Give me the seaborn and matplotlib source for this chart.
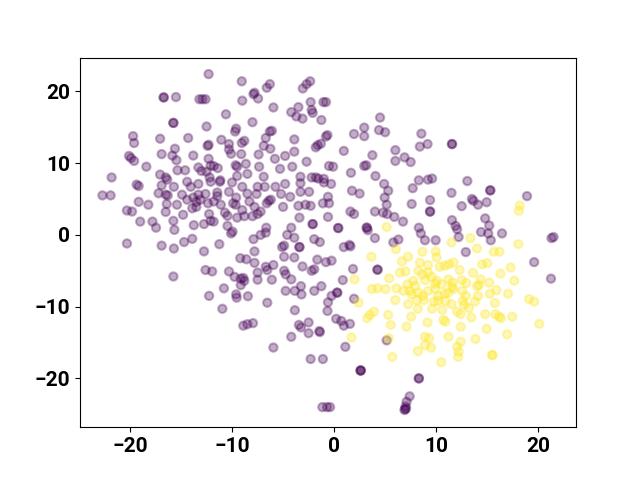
import matplotlib
matplotlib.use("Agg")
import matplotlib.pyplot as plt
import seaborn as sns
import pandas as pd

purple_pts = [
(-12.3,22.4),(-9.05,21.4),(-6.3,21.0),(-6.6,20.5),(-2.35,21.4),(-2.7,21.0),(-3.07,20.4),(-7.8,19.8),(-7.9,19.6),(-7.45,19.0),
(-9.0,18.7),(-12.6,18.9),(-5.95,17.75),(-2.3,18.5),(-1.05,18.5),(-0.8,18.5),(-10.6,16.8),(-8.0,15.7),(-3.5,17.8),(-4.2,17.1),
(-3.7,16.5),(-3.1,16.2),(-2.2,17.4),(-2.1,17.0),(-1.25,16.0),(-12.5,15.1),(-6.1,14.5),(-6.3,14.4),(-9.6,14.8),(-9.7,14.4),
(-6.7,13.5),(-3.9,13.3),(-11.05,13.25),(-12.3,12.55),(-12.4,12.4),(-10.3,12.65),(-10.3,11.9),(-10.1,11.3),(-8.8,13.1),(-9.05,12.8),
(-6.9,12.4),(-6.25,12.0),(-3.9,11.6),(-4.8,11.0),(-1.6,12.5),(-1.3,12.7),(-1.8,12.2),(-0.65,13.9),(-0.8,13.7),(-7.4,11.2),
(-9.1,11.25),(-12.3,10.6),(-11.8,9.6),(-12.1,9.65),(-11.4,9.3),(-9.65,9.7),(-9.5,9.5),(-8.65,9.9),(-7.35,9.5),(-5.8,10.6),
(-5.3,9.2),(-4.1,9.5),(-2.7,10.2),(-0.5,9.6),(-9.5,8.2),(-8.5,8.5),(-12.2,8.0),(-11.15,7.6),(-6.9,8.1),(-3.3,8.1),
(-2.2,8.0),(-1.8,8.0),(-1.55,7.85),(-1.0,7.8),
(-16.7,19.15),(-16.7,19.15),(-15.5,19.2),(-13.2,18.9),(-12.9,18.9),(-15.75,15.6),(-15.75,15.6),(-19.7,13.75),(-19.6,12.8),(-17.05,13.4),(-14.3,13.5),
(-15.6,12.0),(-15.85,11.05),(-15.45,10.4),(-16.9,11.25),(-13.8,11.05),(-20.1,11.0),(-19.9,10.7),(-19.6,10.3),(-18.4,9.5),
(-15.35,9.0),(-14.6,9.0),(-13.3,9.4),(-13.0,8.9),(-12.5,8.8),(-21.8,8.0),(-17.05,8.4),(-16.5,8.0),(-16.35,7.7),(-14.4,7.4),
(-19.35,7.0),(-19.15,6.8),(-16.9,6.9),(-15.7,6.7),(-14.05,6.7),(-13.3,7.1),(-22.7,5.5),(-21.9,5.5),(-17.2,5.8),(-16.5,5.6),
(-16.3,5.5),(-14.9,5.6),(-14.4,4.9),(-13.8,5.2),(-13.3,5.6),(-13.1,4.9),(-13.5,4.6),(-19.15,4.6),(-18.2,4.2),(-16.4,4.3),
(-15.4,4.2),(-13.9,3.7),(-13.5,3.9),(-20.3,3.4),(-19.8,3.25),(-16.5,3.2),(-14.8,2.8),(-19.0,1.85),(-17.8,1.85),(-17.45,1.0),
(-15.75,1.95),(-15.65,0.7),(-13.75,1.35),(-14.7,-1.0),(-13.9,-0.55),(-20.3,-1.2),(-16.9,-1.5),(-15.7,-1.9),(-15.75,-5.8),
(-12.1,7.4),(-11.2,7.4),(-10.0,7.3),(-9.0,6.7),(-7.5,6.7),(-6.8,6.7),(-5.75,6.7),(-4.8,7.1),(-3.3,7.2),(-3.3,6.0),
(-2.45,6.0),(-1.0,7.3),(-12.6,5.7),(-11.45,5.9),(-11.45,5.4),(-10.3,6.0),(-9.6,5.2),(-8.5,5.75),(-7.6,5.7),(-6.2,4.9),
(-6.4,4.75),(-6.6,4.4),(-5.2,5.7),(-4.3,5.3),(-8.3,4.65),(-12.35,4.4),(-11.8,4.65),(-11.1,4.2),(-10.7,3.1),(-10.45,2.65),
(-9.9,4.4),(-9.65,4.2),(-7.8,3.9),(-7.2,3.25),(-7.5,2.9),(-8.0,2.6),(-8.8,2.6),(-9.0,3.45),(-5.0,3.9),(-3.5,4.05),
(-2.8,4.2),(-2.3,4.05),(-1.1,4.4),(-0.5,4.4),(-12.25,2.9),(-11.8,1.85),(-12.1,1.95),(-12.75,1.5),(-10.45,1.25),(-9.95,0.45),
(-10.1,0.2),(-11.25,-1.3),(-12.75,-2.3),(-7.9,-0.6),(-7.2,0.0),(-6.7,0.3),(-6.65,1.0),(-9.5,2.4),(-3.4,2.4),(-2.1,1.5),(-2.1,1.5),
(-4.6,0.0),(-4.2,1.0),(-3.9,-0.4),(-1.95,-0.6),(-1.4,-1.0),(-4.9,-1.5),(-5.1,-1.7),(-3.4,-1.7),(-3.4,-1.7),(-7.8,-2.3),(-4.9,-3.05),
(-3.9,-3.15),(-9.2,-3.25),(-8.6,-3.4),(-7.8,-3.9),(-6.7,-4.45),(-5.95,-4.2),(-6.55,-4.9),(-1.65,-3.45),(-0.8,-3.8),(-1.95,-4.8),
(-2.2,-5.0),(-3.1,-4.4),(-12.6,-4.9),(-11.95,-5.1),(-10.3,-5.1),(-9.75,-5.85),(-9.15,-6.1),(-8.9,-6.0),(-8.8,-6.4),(-9.15,-7.0),
(-7.5,-5.25),(-7.5,-6.25),(-6.1,-6.25),(-4.9,-5.0),(-4.75,-5.5),(-4.2,-6.2),(-10.8,-7.45),(-12.25,-8.5),(-9.6,-8.3),(-9.55,-8.75),
(-8.45,-8.55),(-6.55,-9.45),(-4.75,-7.8),(-3.85,-7.8),(-3.25,-7.15),(-3.2,-8.3),(-1.95,-7.8),(-1.25,-7.15),(-0.6,-9.4),
(-10.95,-10.3),(-3.85,-10.5),(-0.65,-10.6),(-8.9,-12.65),(-8.5,-12.45),(-7.95,-12.3),(-3.45,-12.55),(-3.25,-12.9),(-2.5,-12.2),
(-1.45,-13.4),(-1.4,-13.55),(-2.5,-13.7),(-4.2,-14.2),(-5.95,-15.7),(-2.3,-17.3),(-1.1,-17.3),(-1.15,-24.0),(-0.7,-24.0),(-0.4,-24.0),
(0.2,-11.7),(0.7,-12.0),(0.95,-12.65),(1.55,-12.4),(1.1,-15.6),(5.15,-14.7),(2.6,-18.9),(2.6,-18.9),(2.6,-18.9),(8.3,-20.0),(8.3,-20.0),(7.4,-22.5),(7.1,-23.25),
(7.0,-23.9),(6.9,-24.4),(7.05,-24.2),(6.95,-24.3),
(-0.3,7.1),(1.75,6.15),(2.5,5.75),(4.9,7.1),(5.3,6.15),(4.95,5.2),(5.15,4.2),(4.8,3.1),(5.2,2.9),(5.9,2.5),
(7.7,6.5),(9.4,4.85),(11.5,5.85),(7.6,4.3),(-0.6,5.3),(-0.6,2.5),(1.6,3.25),(1.95,2.9),(4.0,3.25),(6.75,1.85),
(9.4,3.25),(9.4,3.25),(0.4,0.95),(0.4,0.95),(3.2,1.0),(3.2,1.0),(3.3,0.65),(8.3,1.0),(8.5,0.2),(8.9,-0.75),(9.95,-0.75),(4.0,-0.45),(5.8,-1.05),
(6.3,-0.65),(0.95,-1.7),(1.5,-1.4),(1.6,-1.6),(-0.25,-3.6),(4.25,-4.85),(4.25,-4.85),(1.85,-4.75),(0.85,-6.3),(0.3,-8.05),(0.3,-8.05),(-0.25,-8.5),
(1.95,-8.9),
(4.5,16.35),(2.95,14.95),(2.95,13.75),(1.95,14.05),(4.4,14.6),(5.0,14.3),(8.55,14.1),(8.4,12.3),(9.15,12.65),(11.55,12.65),(11.55,12.65),
(0.95,11.7),(3.75,11.1),(6.0,11.8),(6.0,10.3),(6.9,10.8),(7.5,10.15),(-0.1,9.5),(2.95,9.6),(3.15,9.7),(1.65,8.65),
(4.05,8.2),(8.3,7.6),(9.2,7.7),(9.6,7.85),
(13.05,7.5),(13.5,5.0),(13.65,4.75),(15.3,6.2),(15.3,6.2),(14.1,4.2),(14.95,4.55),(12.5,4.0),(18.9,5.4),(14.8,2.3),(15.2,1.3),
(14.4,0.4),(15.1,0.2),(15.35,-0.75),(11.55,2.05),(11.9,1.25),(12.05,0.8),(12.2,-0.3),(16.45,0.2),(21.3,-0.45),(21.5,-0.3),
(12.9,-2.4),(19.6,-3.8),(21.25,-6.1),
]

yellow_pts = [
(5.15,1.1),(6.05,-2.0),(3.65,-3.05),(6.65,-3.7),(7.25,-3.05),(8.65,-2.35),(10.05,-3.15),(9.95,-2.3),(11.5,-1.05),(8.4,-3.85),
(9.2,-4.2),(8.25,-5.0),(8.65,-5.5),(9.2,-5.25),(10.35,-4.45),(10.85,-4.3),(11.25,-4.1),(6.45,-5.25),(7.0,-5.1),(5.4,-6.05),
(2.0,-6.2),(7.75,-6.4),(7.95,-7.1),(8.9,-6.3),(9.55,-5.85),(9.9,-6.8),(10.05,-6.4),(10.55,-6.9),(11.2,-6.2),(11.6,-6.65),
(7.2,-6.9),(7.4,-7.8),(3.7,-7.55),(4.25,-7.45),(5.05,-7.55),(6.1,-7.45),(6.8,-7.8),(7.6,-8.3),(8.25,-8.05),(8.7,-8.5),
(9.2,-7.8),(9.9,-7.55),(10.2,-8.5),(10.85,-8.2),(11.2,-8.05),(2.4,-9.45),(6.0,-9.1),(8.1,-9.1),(8.8,-9.1),(9.8,-9.3),
(10.2,-9.2),(10.9,-9.2),(7.25,-9.65),(11.5,-9.65),
(18.2,4.1),(18.1,3.35),(13.35,-0.45),(14.0,-1.9),(15.65,-2.35),(16.2,-2.35),(18.05,-1.3),(11.7,-3.85),(14.5,-4.1),(15.0,-3.95),
(12.3,-4.9),(13.6,-5.3),(17.3,-4.55),(16.3,-5.4),(12.5,-6.3),(12.95,-6.7),(14.35,-6.2),(14.2,-7.0),(14.0,-7.15),(15.2,-6.65),
(17.65,-6.4),(11.55,-7.25),(11.7,-7.55),(12.55,-7.8),(15.9,-7.7),(15.25,-8.2),(17.05,-8.2),(14.1,-8.5),(12.9,-8.5),(19.1,-8.95),
(19.6,-9.3),(12.6,-9.2),(13.8,-9.3),(12.75,-9.75),(15.75,-9.5),
(3.9,-10.7),(3.5,-11.15),(3.25,-11.6),(5.3,-11.15),(8.2,-10.3),(7.55,-11.4),(7.1,-12.8),(5.55,-12.55),(9.15,-12.2),(9.6,-10.3),
(10.6,-10.45),(10.7,-11.85),(10.9,-12.1),(1.7,-14.3),(5.35,-14.4),(8.9,-14.2),(9.3,-14.4),(8.9,-15.4),(9.5,-15.7),(8.2,-16.2),
(11.2,-14.2),(5.7,-17.0),(10.5,-17.75),
(12.05,-10.7),(12.4,-11.05),(13.2,-10.2),(13.45,-11.5),(14.8,-11.05),(15.8,-11.05),(16.15,-11.4),(16.35,-11.6),(17.45,-11.4),(20.1,-12.4),
(12.4,-12.8),(14.95,-13.1),(16.95,-13.85),(13.85,-14.5),(12.4,-14.9),(12.05,-15.6),(12.2,-16.3),(12.15,-17.0),(15.5,-16.75),(15.5,-16.75),
]

class_colors = ["#440154", "#fde725"]

x_vals = [p[0] for p in purple_pts] + [p[0] for p in yellow_pts]
y_vals = [p[1] for p in purple_pts] + [p[1] for p in yellow_pts]
labels = [0] * len(purple_pts) + [1] * len(yellow_pts)
df = pd.DataFrame({"x": x_vals, "y": y_vals, "label": labels})

plt.rcParams['font.family'] = ['Roboto', 'DejaVu Sans']
plt.rcParams['font.weight'] = 'bold'

fig, ax = plt.subplots(figsize=(6.4, 4.8), dpi=100)
sns.scatterplot(data=df, x="x", y="y", hue="label", palette=class_colors,
                alpha=0.32, s=36, edgecolor="face", linewidth=1.5,
                legend=False, ax=ax)
ax.set_xlim(-24.9, 23.7)
ax.set_ylim(-26.8, 24.7)
ax.set_xticks([-20, -10, 0, 10, 20])
ax.set_yticks([-20, -10, 0, 10, 20])
ax.set_xlabel("")
ax.set_ylabel("")
for lbl in ax.get_xticklabels() + ax.get_yticklabels():
    lbl.set_fontsize(15)
    lbl.set_fontweight('bold')
fig.savefig("out.png", dpi=100)
